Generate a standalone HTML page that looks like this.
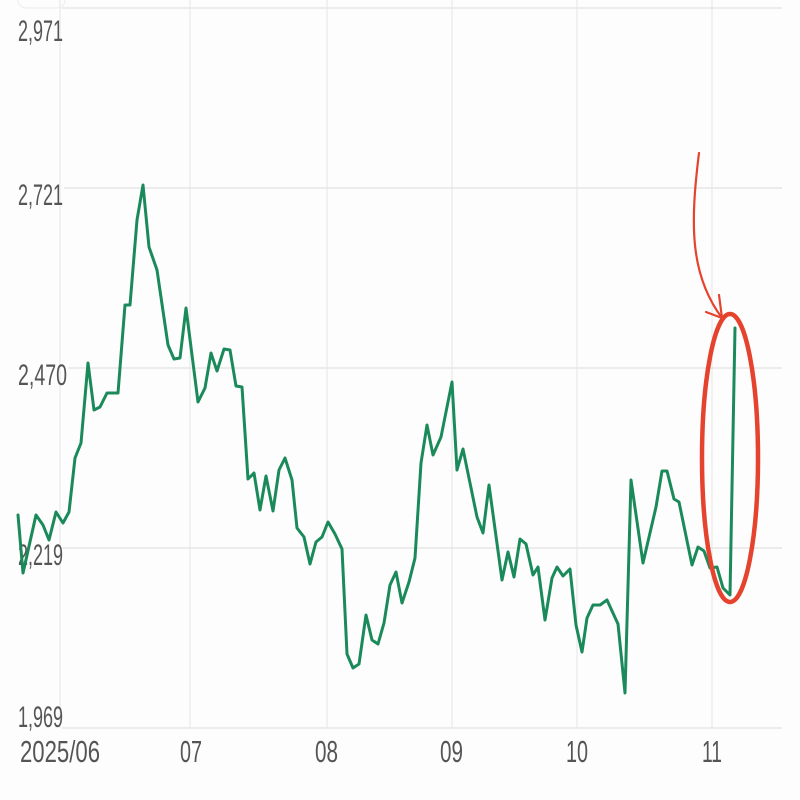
<!DOCTYPE html>
<html>
<head>
<meta charset="utf-8">
<style>
html,body{margin:0;padding:0;background:#fff;}
svg{display:block;}
text{font-family:"Liberation Sans",sans-serif;fill:#555;}
</style>
</head>
<body>
<svg width="800" height="800" viewBox="0 0 800 800" xmlns="http://www.w3.org/2000/svg">
<rect width="800" height="800" fill="#fdfdfd"/>
<rect x="18" y="-10" width="47" height="18" rx="8" fill="none" stroke="#ececec" stroke-width="1"/>
<!-- vertical grid -->
<g stroke="#e9e9e9" stroke-width="1.2">
<line x1="60" y1="0" x2="60" y2="728"/>
<line x1="190" y1="0" x2="190" y2="728"/>
<line x1="327" y1="0" x2="327" y2="728"/>
<line x1="452" y1="0" x2="452" y2="728"/>
<line x1="577" y1="0" x2="577" y2="728"/>
<line x1="712" y1="0" x2="712" y2="728"/>
</g>
<!-- horizontal grid -->
<g stroke="#e6e6e6" stroke-width="1.5">
<line x1="62" y1="8" x2="782" y2="8"/>
<line x1="64" y1="188" x2="782" y2="188"/>
<line x1="68" y1="368" x2="782" y2="368"/>
<line x1="62" y1="548" x2="782" y2="548"/>
<line x1="62" y1="728" x2="782" y2="728"/>
</g>
<!-- y labels -->
<text x="18" y="41" font-size="30" textLength="45" lengthAdjust="spacingAndGlyphs">2,971</text>
<text x="18" y="205" font-size="30" textLength="45" lengthAdjust="spacingAndGlyphs">2,721</text>
<text x="18" y="385" font-size="30" textLength="49" lengthAdjust="spacingAndGlyphs">2,470</text>
<text x="18" y="565" font-size="30" textLength="45" lengthAdjust="spacingAndGlyphs">2,219</text>
<text x="18" y="727" font-size="30" textLength="45" lengthAdjust="spacingAndGlyphs">1,969</text>
<!-- x labels -->
<text x="20" y="762" font-size="31" textLength="80" lengthAdjust="spacingAndGlyphs">2025/06</text>
<text x="180" y="762" font-size="31" textLength="22" lengthAdjust="spacingAndGlyphs">07</text>
<text x="315" y="762" font-size="31" textLength="23" lengthAdjust="spacingAndGlyphs">08</text>
<text x="440" y="762" font-size="31" textLength="23" lengthAdjust="spacingAndGlyphs">09</text>
<text x="566" y="762" font-size="31" textLength="22" lengthAdjust="spacingAndGlyphs">10</text>
<text x="702" y="762" font-size="31" textLength="20" lengthAdjust="spacingAndGlyphs">11</text>
<!-- data line -->
<polyline fill="none" stroke="#1b8a5a" stroke-width="3" stroke-linejoin="round" stroke-linecap="round"
points="18,515 23,573 36,515 43,525 49,540 56,512 63,523 69,512 75,458 81,443 88,363 94,410 100,407 107,393 118,393 125,305 130,305 137,220 143,185 149,247 157,270 168,345 174,359 180,358 186,308 198,402 205,388 211,353 217,371 224,349 230,350 236,386 242,387 248,479 254,473 260,510 266,476 273,511 279,470 285,458 292,480 297,528 304,537 310,564 316,542 322,537 328,522 335,534 342,549 347,654 353,668 359,664 366,615 372,640 378,644 384,623 390,585 396,572 402,603 409,582 415,558 421,463 427,425 433,455 441,437 452,382 457,470 463,449 477,517 483,533 489,485 502,580 508,552 514,577 520,539 526,544 533,575 538,567 545,620 552,578 557,567 563,576 570,569 576,625 582,652 587,618 593,605 600,605 607,600 618,624 625,693 631,480 643,563 656,507 662,471 667,471 674,499 679,502 692,565 698,547 704,551 710,568 717,567 723,588 730,595 735,328"/>
<!-- red annotation -->
<ellipse cx="730" cy="458" rx="28" ry="144" fill="none" stroke="#e5432e" stroke-width="4.5"/>
<path d="M699,153 C690,225 690,275 722,318" fill="none" stroke="#e5432e" stroke-width="2.2" stroke-linecap="round"/>
<path d="M719,295 L722,318 L706,312" fill="none" stroke="#e5432e" stroke-width="2.2" stroke-linecap="round" stroke-linejoin="round"/>
</svg>
</body>
</html>
